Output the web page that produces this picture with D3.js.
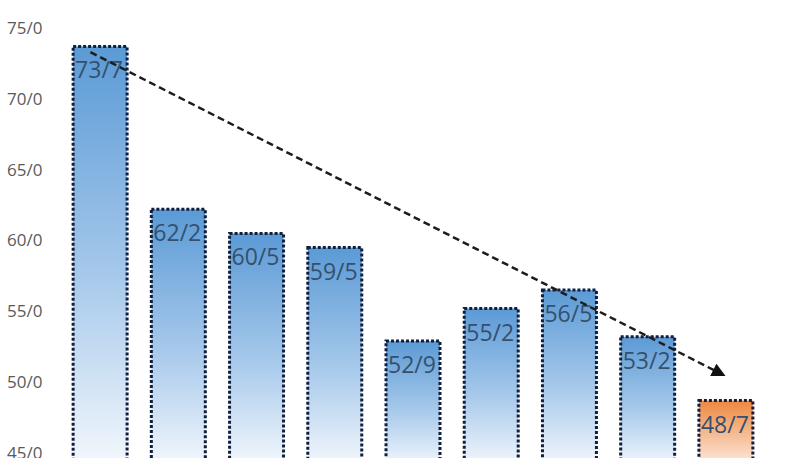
<!DOCTYPE html>
<html>
<head>
<meta charset="utf-8">
<script src="https://cdn.jsdelivr.net/npm/d3@7"></script>
<style>
  body { margin: 0; background: #fff; }
  svg { display: block; }
</style>
</head>
<body>
<svg class="chart"></svg>
<script>
var width = 800,
    height = 458;

// data
var categories = ["1", "2", "3", "4", "5", "6", "7", "8", "9"];
var values = [73.7, 62.2, 60.5, 59.5, 52.9, 55.2, 56.5, 53.2, 48.7];
var highlight = [false, false, false, false, false, false, false, false, true];
var yTicks = [45, 50, 55, 60, 65, 70, 75];
var trendFrom = 73.3, trendTo = 50.65;

var x = d3.scaleBand()
    .domain(categories)
    .range([61, 765])
    .paddingInner(0.31)
    .paddingOuter(0.155);

var y = d3.scaleLinear()
    .domain([45, 75])
    .range([453, 28]);

var fmt = function(v) { return d3.format(".1f")(v).replace(".", "/"); };

var svg = d3.select(".chart")
    .attr("width", width)
    .attr("height", height);

var defs = svg.append("defs");

var blue = defs.append("linearGradient")
    .attr("id", "gBlue")
    .attr("x1", 0).attr("y1", 0).attr("x2", 0).attr("y2", 1);
blue.append("stop").attr("offset", "0%").attr("stop-color", "#5b9ad5");
blue.append("stop").attr("offset", "55%").attr("stop-color", "#a7c9eb");
blue.append("stop").attr("offset", "100%").attr("stop-color", "#f4f8fd");

var orange = defs.append("linearGradient")
    .attr("id", "gOrange")
    .attr("x1", 0).attr("y1", 0).attr("x2", 0).attr("y2", 1);
orange.append("stop").attr("offset", "0%").attr("stop-color", "#ee8740");
orange.append("stop").attr("offset", "100%").attr("stop-color", "#fdeee4");

defs.append("marker")
    .attr("id", "arrow")
    .attr("viewBox", "0 0 10 10")
    .attr("refX", 5).attr("refY", 5)
    .attr("markerWidth", 5.5).attr("markerHeight", 5.5)
    .attr("orient", "auto")
  .append("path")
    .attr("d", "M0,0L10,5L0,10Z")
    .attr("fill", "#111");

// y axis labels
svg.append("g").selectAll("text")
    .data(yTicks)
  .enter().append("text")
    .attr("x", 7)
    .attr("y", function(d) { return y(d); })
    .attr("dy", ".35em")
    .style("font-family", "'Open Sans', sans-serif")
    .style("font-size", "17px")
    .style("fill", "#5a5a5a")
    .text(fmt);

var bar = svg.append("g").selectAll("g")
    .data(values)
  .enter().append("g")
    .attr("transform", function(d, i) { return "translate(" + x(categories[i]) + ",0)"; });

bar.append("rect")
    .attr("y", function(d) { return y(d); })
    .attr("width", x.bandwidth())
    .attr("height", function(d) { return y(44) - y(d); })
    .attr("fill", function(d, i) { return highlight[i] ? "url(#gOrange)" : "url(#gBlue)"; })
    .attr("stroke", "#101f3e")
    .attr("stroke-width", 3)
    .attr("stroke-dasharray", "3,2");

bar.append("text")
    .attr("x", 2)
    .attr("y", function(d) { return y(d) + 32; })
    .style("font-family", "'Open Sans', sans-serif")
    .style("font-size", "23px")
    .style("fill", "#34506e")
    .text(fmt);

// trend arrow
svg.append("line")
    .attr("x1", x(categories[0]) + x.bandwidth() * 0.32)
    .attr("y1", y(trendFrom))
    .attr("x2", x(categories[8]) + x.bandwidth() * 0.38)
    .attr("y2", y(trendTo))
    .attr("stroke", "#1c1c1c")
    .attr("stroke-width", 2.5)
    .attr("stroke-dasharray", "7,4")
    .attr("marker-end", "url(#arrow)");
</script>
</body>
</html>
